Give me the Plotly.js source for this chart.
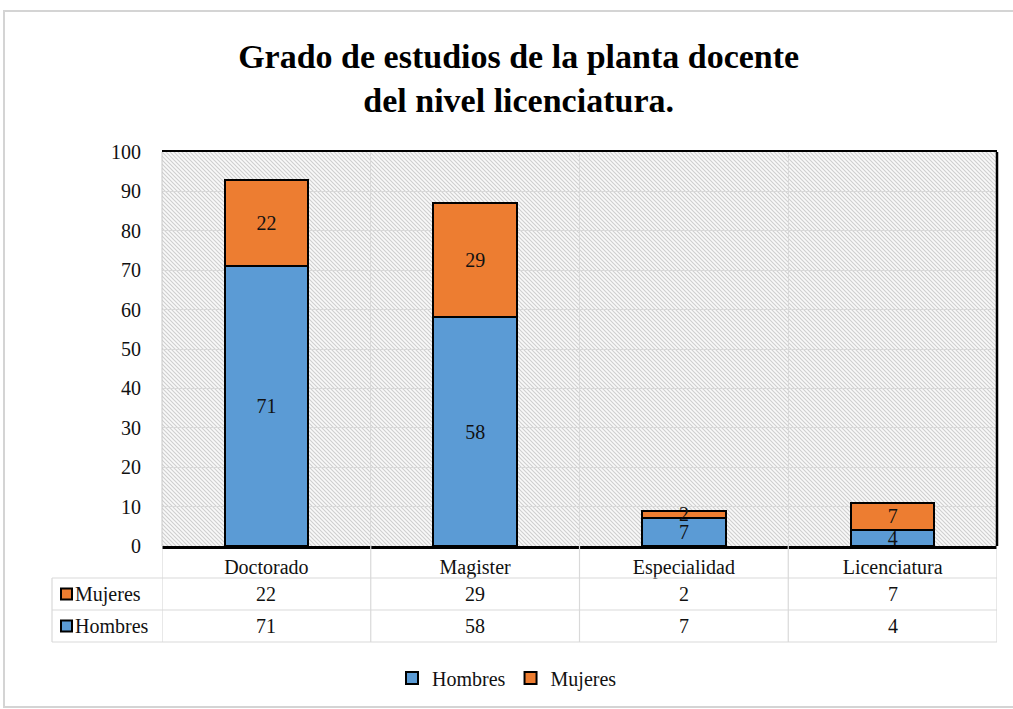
<!DOCTYPE html>
<html>
<head>
<meta charset="utf-8">
<script src="https://cdn.plot.ly/plotly-3.0.1.min.js"></script>
<style>
html,body{margin:0;padding:0;background:#fff;}
#chart{width:1013px;height:709px;}
</style>
</head>
<body>
<div id="chart"></div>
<script>
// ---- data ----
const categories = ['Doctorado', 'Magister', 'Especialidad', 'Licenciatura'];
const hombres = [71, 58, 7, 4];
const mujeres = [22, 29, 2, 7];
const seriesNames = ['Hombres', 'Mujeres'];
const titleText = 'Grado de estudios de la planta docente<br>del nivel licenciatura.';

// ---- styling ----
const W = 1013, H = 709;
const M = {l: 162, r: 16, t: 152, b: 163};
const PW = W - M.l - M.r, PH = H - M.t - M.b;
const px = x => (x - M.l) / PW;           // pixel -> paper x
const py = y => (H - M.b - y) / PH;       // pixel -> paper y
const SERIF = '"Liberation Serif", "Times New Roman", serif';
const BLUE = '#5B9BD5', ORANGE = '#ED7D31';
const GRID = '#d9d9d9';
const FS = 20;

const hatchSvg = '<svg xmlns="http://www.w3.org/2000/svg" width="835" height="394">' +
  '<defs><pattern id="p" patternUnits="userSpaceOnUse" width="4" height="4">' +
  '<rect width="4" height="4" fill="#f9f9f9"/>' +
  '<path d="M-1,3 L1,5 M0,0 L4,4 M3,-1 L5,1" stroke="#cfcfcf" stroke-width="1.1"/>' +
  '</pattern></defs><rect width="835" height="394" fill="url(#p)"/></svg>';

const barText = {
  texttemplate: '%{y}', textposition: 'inside', insidetextanchor: 'middle', textangle: 0,
  textfont: {family: SERIF, size: FS, color: '#111'}, cliponaxis: false, hoverinfo: 'skip'
};
const traces = [
  Object.assign({type: 'bar', name: seriesNames[0], x: categories, y: hombres,
   marker: {color: BLUE, line: {color: '#000', width: 2}}}, barText),
  Object.assign({type: 'bar', name: seriesNames[1], x: categories, y: mujeres,
   marker: {color: ORANGE, line: {color: '#000', width: 2}}}, barText)
];

const shapes = [];
const annotations = [];

// outer chart frame
shapes.push({type: 'rect', xref: 'paper', yref: 'paper',
  x0: px(4), x1: px(1020), y0: py(707), y1: py(11),
  line: {color: '#d4d4d4', width: 2}, layer: 'below'});
// plot borders
shapes.push({type: 'line', xref: 'paper', yref: 'paper', x0: 1, x1: 1, y0: 0, y1: 1,
  line: {color: '#000', width: 2.5}});
shapes.push({type: 'line', xref: 'paper', yref: 'paper', x0: 0, x1: 0, y0: 0, y1: 1,
  line: {color: '#c8c8c8', width: 1}});

// data table
const rowTops = [546, 578, 610, 642];
const tableLeft = 52;
const rows = [
  {name: seriesNames[1], vals: mujeres, color: ORANGE},
  {name: seriesNames[0], vals: hombres, color: BLUE}
];
for (let r = 1; r < rowTops.length; r++) {
  shapes.push({type: 'line', xref: 'paper', yref: 'paper',
    x0: px(tableLeft), x1: 1, y0: py(rowTops[r]), y1: py(rowTops[r]),
    line: {color: GRID, width: 1.2}});
}
for (let i = 0; i <= categories.length; i++) {
  shapes.push({type: 'line', xref: 'x', yref: 'paper',
    x0: i - 0.5, x1: i - 0.5, y0: py(rowTops[0]), y1: py(rowTops[3]),
    line: {color: GRID, width: 1.2}});
}
shapes.push({type: 'line', xref: 'paper', yref: 'paper',
  x0: px(tableLeft), x1: px(tableLeft), y0: py(rowTops[1]), y1: py(rowTops[3]),
  line: {color: GRID, width: 1.2}});

rows.forEach((row, r) => {
  const yc = (rowTops[r + 1] + rowTops[r + 2]) / 2;
  shapes.push({type: 'rect', xref: 'paper', yref: 'paper',
    x0: px(61), x1: px(72), y0: py(yc - 5.5), y1: py(yc + 5.5),
    fillcolor: row.color, line: {color: '#000', width: 2}});
  annotations.push({xref: 'paper', yref: 'paper', x: px(73), y: py(yc),
    xanchor: 'left', yanchor: 'middle', showarrow: false, text: row.name,
    font: {family: SERIF, size: FS, color: '#111'}});
  row.vals.forEach((v, i) => {
    annotations.push({xref: 'x', yref: 'paper', x: categories[i], y: py(yc),
      xanchor: 'center', yanchor: 'middle', showarrow: false, text: String(v),
      font: {family: SERIF, size: FS, color: '#111'}});
  });
});

const layout = {
  width: W, height: H,
  margin: M,
  paper_bgcolor: '#fff',
  plot_bgcolor: 'rgba(0,0,0,0)',
  barmode: 'stack',
  bargap: 0.6,
  showlegend: true,
  uniformtext: {mode: 'show', minsize: FS},
  title: {text: titleText, xref: 'container', x: 0.512, xanchor: 'center',
    yref: 'container', y: 1 - 68 / H, yanchor: 'middle',
    font: {family: SERIF, size: 34, color: '#000', weight: 'bold'}},
  font: {family: SERIF, color: '#111'},
  xaxis: {type: 'category', tickson: 'boundaries', showgrid: true, gridcolor: GRID,
    gridwidth: 1, ticks: '', showline: true, mirror: true, linecolor: '#000', linewidth: 2.5,
    tickfont: {family: SERIF, size: FS, color: '#111'}, ticklabelstandoff: 1,
    range: [-0.5, categories.length - 0.5], fixedrange: true},
  yaxis: {range: [0, 100], dtick: 10, showgrid: true, gridcolor: GRID, gridwidth: 1,
    zeroline: false, showline: false, ticks: '',
    tickfont: {family: SERIF, size: FS, color: '#111'}, ticklabelstandoff: 20,
    fixedrange: true},
  legend: {orientation: 'h', x: px(392), xanchor: 'left', y: py(678), yanchor: 'middle',
    traceorder: 'normal', font: {family: SERIF, size: FS, color: '#111'},
    itemwidth: 30, bgcolor: 'rgba(0,0,0,0)'},
  images: [{source: 'data:image/svg+xml;utf8,' + encodeURIComponent(hatchSvg),
    xref: 'paper', yref: 'paper', x: 0, y: 1, sizex: 1, sizey: 1,
    xanchor: 'left', yanchor: 'top', sizing: 'stretch', layer: 'below'}],
  shapes: shapes,
  annotations: annotations
};

Plotly.newPlot('chart', traces, layout, {staticPlot: true, displayModeBar: false});
</script>
</body>
</html>
